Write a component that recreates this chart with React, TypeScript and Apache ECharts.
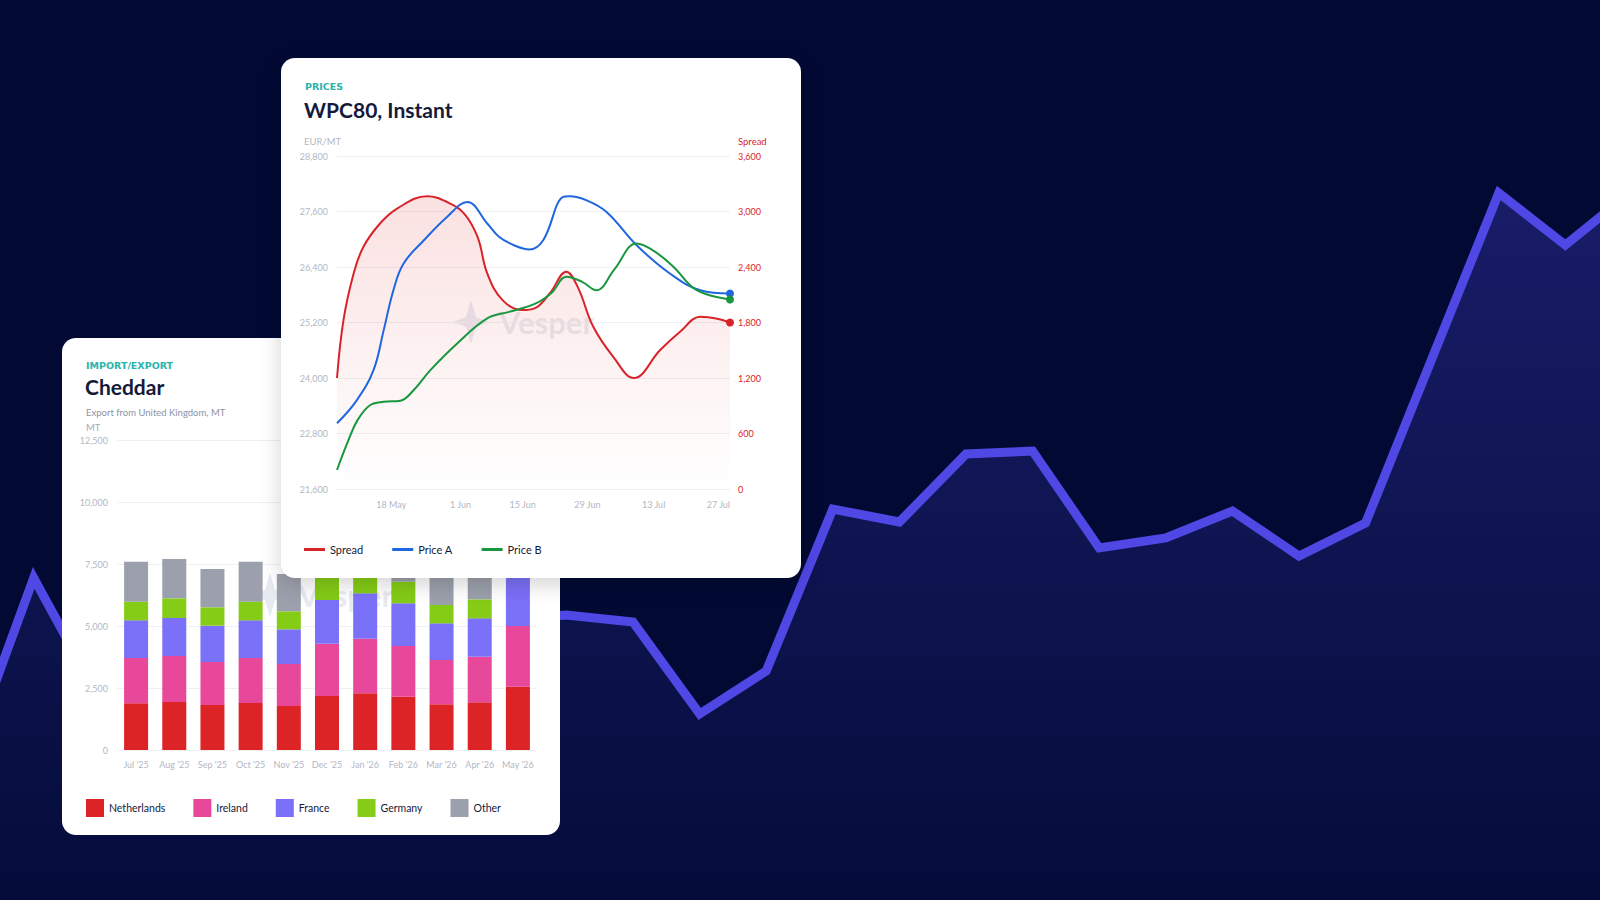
import React, { useEffect, useRef } from "react";
import * as echarts from "echarts";

// ---------- Background line (index -> height) ----------
const bgIndex = [-1, 0, 1, 2, 3, 4, 5, 6, 7, 8, 9, 10, 11, 12, 13, 14, 15, 16, 17, 18, 19, 20, 21, 22, 23, 24];
const bgValues = [140, 322, 200, 250, 235, 275, 290, 262, 280, 285, 278, 186, 229, 391, 378, 446, 449, 352, 362, 389, 344, 377, 542, 707, 655, 709];

// ---------- Cheddar (stacked bars) ----------
const months = ["Jul '25", "Aug '25", "Sep '25", "Oct '25", "Nov '25", "Dec '25", "Jan '26", "Feb '26", "Mar '26", "Apr '26", "May '26"];
const netherlands = [1882, 1935, 1814, 1895, 1774, 2177, 2285, 2150, 1841, 1922, 2553];
const ireland = [1827, 1855, 1734, 1814, 1694, 2110, 2204, 2043, 1788, 1841, 2447];
const france = [1519, 1532, 1465, 1519, 1398, 1761, 1828, 1721, 1478, 1546, 2000];
const germany = [753, 794, 741, 753, 727, 900, 700, 873, 739, 765, 850];
const other = [1613, 1585, 1544, 1613, 1503, 700, 800, 900, 1700, 1550, 1000];
const cheddarNames = ["Netherlands", "Ireland", "France", "Germany", "Other"];

// ---------- Prices (day offset from 3 May) ----------
const tickDays = [15, 29, 43, 57, 71, 85];
const tickLabels = ["18 May", "1 Jun", "15 Jun", "29 Jun", "13 Jul", "27 Jul"];

const spreadDays = [0, 1.4, 3.6, 5.7, 9.3, 13, 19.5, 23.8, 27.5, 30.4, 32.5, 35.8, 40.1, 42.7, 46, 49.6, 52.1, 55.4, 59.8, 64.2, 69.9, 74.2, 78.6, 82, 85];
const spreadValues = [1200, 1826, 2330, 2617, 2870, 3032, 3165, 3103, 2978, 2725, 2330, 2042, 1934, 1952, 2114, 2350, 2180, 1756, 1425, 1200, 1502, 1699, 1861, 1844, 1800];

const priceADays = [0, 4.3, 7.9, 10.1, 12.2, 14.4, 18.8, 23.8, 28.2, 32.5, 35.1, 38.5, 41.6, 44.6, 48.9, 50.3, 54, 58.3, 64.8, 72, 78.6, 85];
const priceAValues = [23020, 23523, 24171, 25035, 25899, 26475, 26979, 27482, 27806, 27340, 27050, 26860, 26778, 26979, 27914, 27929, 27840, 27590, 26871, 26260, 25899, 25828];

const priceBDays = [0, 2.5, 4.5, 7.2, 10.1, 13.7, 16.6, 20.2, 26, 32.5, 37.2, 43, 46.5, 49.6, 53, 56.1, 60, 64.8, 68.5, 72.8, 77.8, 85];
const priceBValues = [22011, 22660, 23100, 23416, 23487, 23509, 23740, 24171, 24748, 25288, 25430, 25612, 25850, 26190, 26080, 25899, 26350, 26908, 26750, 26402, 25899, 25698];

const FONT = "Lato, 'Noto Sans', sans-serif";
const WIDE = "'DejaVu Sans', sans-serif";
const NAVY = "#141a3b";
const TEAL = "#27b4ad";
const RED = "#d8232a";
const BLUE = "#2066de";
const GREEN = "#18973f";
const AXIS_GRAY = "#b3b7c4";
const GRID_GRAY = "#eef0f4";

const fmt = (v: number) => v.toLocaleString("en-US");

function watermark(cx: number, cy: number) {
  const c = "rgba(150,160,190,0.22)";
  return {
    type: "group",
    x: cx - 80,
    y: cy,
    z: 1,
    silent: true,
    children: [
      {
        type: "polygon",
        x: 18,
        y: 0,
        shape: { points: [[0, -22], [5, -5], [18, 0], [5, 5], [0, 22], [-5, 5], [-18, 0], [-5, -5]] },
        style: { fill: c },
      },
      {
        type: "text",
        x: 46,
        y: 0,
        style: { text: "Vesper", fill: c, fontSize: 31, fontWeight: "bold", fontFamily: FONT, verticalAlign: "middle" },
      },
    ],
  };
}

export default function App() {
  const bgRef = useRef<HTMLDivElement>(null);
  const chRef = useRef<HTMLDivElement>(null);
  const prRef = useRef<HTMLDivElement>(null);

  useEffect(() => {
    document.body.style.margin = "0";
    const bg = echarts.init(bgRef.current!, null, { renderer: "svg" });
    const ch = echarts.init(chRef.current!, null, { renderer: "svg" });
    const pr = echarts.init(prRef.current!, null, { renderer: "svg" });

    bg.setOption({
      animation: false,
      backgroundColor: "#020a34",
      grid: { left: 0, right: 0, top: 0, bottom: 0 },
      xAxis: { type: "value", min: -0.506, max: 23.52, show: false },
      yAxis: { type: "value", min: 0, max: 900, show: false },
      series: [
        {
          type: "line",
          data: bgIndex.map((k, i) => [k, bgValues[i]]),
          symbol: "none",
          lineStyle: { color: "#5048e5", width: 9, join: "miter" },
          areaStyle: {
            color: new echarts.graphic.LinearGradient(0, 0, 0, 1, [
              { offset: 0, color: "rgba(80,72,228,0.42)" },
              { offset: 1, color: "rgba(80,72,228,0.05)" },
            ]),
          },
        },
      ],
    });

    const chColors = ["#dc2426", "#e8489a", "#7b70f8", "#84cc16", "#9ca0ac"];
    const chData = [netherlands, ireland, france, germany, other];
    ch.setOption({
      animation: false,
      textStyle: { fontFamily: FONT },
      grid: { left: 55, right: 23, top: 102, bottom: 85 },
      legend: {
        left: 24,
        top: 461,
        padding: 0,
        icon: "rect",
        itemWidth: 18,
        itemHeight: 18,
        itemGap: 28,
        data: cheddarNames,
        textStyle: { fontSize: 10.5, color: NAVY, fontFamily: FONT },
      },
      xAxis: {
        type: "category",
        data: months,
        axisLine: { show: false },
        axisTick: { show: false },
        axisLabel: { color: AXIS_GRAY, fontSize: 9, margin: 10, interval: 0, fontFamily: FONT },
      },
      yAxis: {
        type: "value",
        min: 0,
        max: 12500,
        interval: 2500,
        axisLine: { show: false },
        axisTick: { show: false },
        axisLabel: { color: AXIS_GRAY, fontSize: 9, margin: 9, formatter: fmt, fontFamily: FONT },
        splitLine: { lineStyle: { color: GRID_GRAY } },
      },
      graphic: [
        { type: "text", x: 24, y: 27, style: { text: "IMPORT/EXPORT", fill: TEAL, fontSize: 9.5, fontWeight: "bold", fontFamily: WIDE, verticalAlign: "middle" } },
        { type: "text", x: 23, y: 48, style: { text: "Cheddar", fill: NAVY, fontSize: 21, fontWeight: "bold", fontFamily: FONT, verticalAlign: "middle" } },
        { type: "text", x: 24, y: 74, style: { text: "Export from United Kingdom, MT", fill: "#8d92a2", fontSize: 9.5, fontFamily: FONT, verticalAlign: "middle" } },
        { type: "text", x: 24, y: 89, style: { text: "MT", fill: "#a3a8b6", fontSize: 9.5, fontFamily: FONT, verticalAlign: "middle" } },
        watermark(270, 257),
      ],
      series: cheddarNames.map((n, i) => ({
        name: n,
        type: "bar",
        stack: "total",
        barWidth: 24,
        data: chData[i],
        itemStyle: { color: chColors[i] },
        z: 3,
      })),
    });

    const lastSize = (len: number) => (_v: any, p: any) => (p.dataIndex === len - 1 ? 8 : 0);
    pr.setOption({
      animation: false,
      textStyle: { fontFamily: FONT },
      grid: { left: 56, right: 71, top: 98, bottom: 89 },
      legend: {
        left: 23,
        top: 486,
        padding: 0,
        icon: "rect",
        itemWidth: 21,
        itemHeight: 3,
        itemGap: 29,
        data: ["Spread", "Price A", "Price B"],
        textStyle: { fontSize: 11, color: NAVY, fontFamily: FONT },
      },
      xAxis: {
        type: "value",
        min: 0,
        max: 85,
        axisLine: { show: false },
        axisTick: { show: false },
        splitLine: { show: false },
        axisLabel: {
          customValues: tickDays,
          formatter: (v: number) => {
            const i = tickDays.indexOf(v);
            return i >= 0 ? tickLabels[i] : "";
          },
          align: "right",
          color: AXIS_GRAY,
          fontSize: 9,
          margin: 11,
          fontFamily: FONT,
        },
      },
      yAxis: [
        {
          type: "value",
          position: "left",
          min: 21600,
          max: 28800,
          interval: 1200,
          axisLine: { show: false },
          axisTick: { show: false },
          axisLabel: { color: AXIS_GRAY, fontSize: 9, margin: 9, formatter: fmt, fontFamily: FONT },
          splitLine: { lineStyle: { color: GRID_GRAY } },
        },
        {
          type: "value",
          position: "right",
          min: 0,
          max: 3600,
          interval: 600,
          axisLine: { show: false },
          axisTick: { show: false },
          axisLabel: { color: RED, fontSize: 9, margin: 8, formatter: fmt, fontFamily: FONT },
          splitLine: { show: false },
        },
      ],
      graphic: [
        { type: "text", x: 24, y: 28, style: { text: "PRICES", fill: TEAL, fontSize: 9.5, fontWeight: "bold", fontFamily: WIDE, verticalAlign: "middle" } },
        { type: "text", x: 23, y: 51, style: { text: "WPC80, Instant", fill: NAVY, fontSize: 21, fontWeight: "bold", fontFamily: FONT, verticalAlign: "middle" } },
        { type: "text", x: 23, y: 83, style: { text: "EUR/MT", fill: AXIS_GRAY, fontSize: 9.5, fontFamily: FONT, verticalAlign: "middle" } },
        { type: "text", x: 457, y: 83, style: { text: "Spread", fill: RED, fontSize: 9.5, fontFamily: FONT, verticalAlign: "middle" } },
        watermark(252, 264),
      ],
      series: [
        {
          name: "Spread",
          type: "line",
          yAxisIndex: 1,
          smooth: 0.4,
          data: spreadDays.map((d, i) => [d, spreadValues[i]]),
          symbol: "circle",
          showAllSymbol: true,
          symbolSize: lastSize(spreadDays.length),
          lineStyle: { color: RED, width: 2 },
          itemStyle: { color: RED },
          areaStyle: {
            color: new echarts.graphic.LinearGradient(0, 0, 0, 1, [
              { offset: 0, color: "rgba(225,60,60,0.22)" },
              { offset: 1, color: "rgba(225,60,60,0.0)" },
            ]),
          },
          z: 3,
        },
        {
          name: "Price A",
          type: "line",
          yAxisIndex: 0,
          smooth: 0.4,
          data: priceADays.map((d, i) => [d, priceAValues[i]]),
          symbol: "circle",
          showAllSymbol: true,
          symbolSize: lastSize(priceADays.length),
          lineStyle: { color: BLUE, width: 2 },
          itemStyle: { color: BLUE },
          z: 4,
        },
        {
          name: "Price B",
          type: "line",
          yAxisIndex: 0,
          smooth: 0.4,
          data: priceBDays.map((d, i) => [d, priceBValues[i]]),
          symbol: "circle",
          showAllSymbol: true,
          symbolSize: lastSize(priceBDays.length),
          lineStyle: { color: GREEN, width: 2 },
          itemStyle: { color: GREEN },
          z: 5,
        },
      ],
    });

    return () => {
      bg.dispose();
      ch.dispose();
      pr.dispose();
    };
  }, []);

  return (
    <div style={{ position: "fixed", left: 0, top: 0, width: 1600, height: 900, overflow: "hidden", background: "#020a34" }}>
      <div ref={bgRef} style={{ position: "absolute", left: 0, top: 0, width: 1600, height: 900 }} />
      <div
        style={{ position: "absolute", left: 62, top: 338, width: 498, height: 497, background: "#fff", borderRadius: 14, overflow: "hidden" }}
      >
        <div ref={chRef} style={{ width: 498, height: 497 }} />
      </div>
      <div
        style={{
          position: "absolute",
          left: 281,
          top: 58,
          width: 520,
          height: 520,
          background: "#fff",
          borderRadius: 14,
          overflow: "hidden",
          boxShadow: "0 6px 22px rgba(0,0,0,0.18)",
        }}
      >
        <div ref={prRef} style={{ width: 520, height: 520 }} />
      </div>
    </div>
  );
}
